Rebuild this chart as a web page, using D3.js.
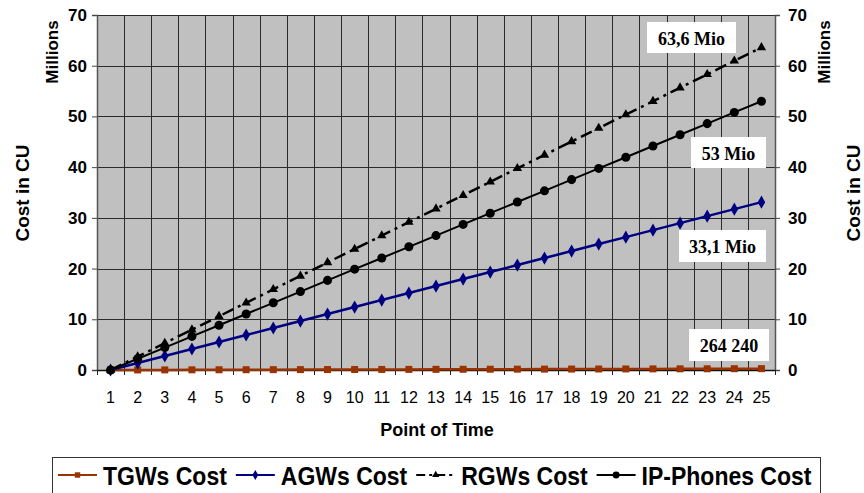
<!DOCTYPE html>
<html>
<head>
<meta charset="utf-8">
<script src="https://cdn.jsdelivr.net/npm/d3@7"></script>
<style>
  html, body { margin: 0; padding: 0; background: #ffffff; }
  svg { display: block; }
  text { fill: #000; }
</style>
</head>
<body>
<svg id="chart" width="864" height="493"></svg>
<script>
// Points of time on the category axis
const categories = ["1","2","3","4","5","6","7","8","9","10","11","12","13","14","15","16","17","18","19","20","21","22","23","24","25"];

// Cumulative cost per point of time, in millions of CU
const tgwsCost = [0, 0.011, 0.022, 0.033, 0.044, 0.055, 0.066, 0.077, 0.088, 0.099, 0.11, 0.121, 0.132, 0.143, 0.154, 0.165, 0.176, 0.187, 0.198, 0.209, 0.22, 0.231, 0.242, 0.253, 0.26424];
const agwsCost = [0, 1.38, 2.76, 4.14, 5.52, 6.9, 8.28, 9.65, 11.03, 12.41, 13.79, 15.17, 16.55, 17.93, 19.31, 20.69, 22.07, 23.45, 24.83, 26.2, 27.58, 28.96, 30.34, 31.72, 33.1];
const rgwsCost = [0, 2.65, 5.3, 7.95, 10.6, 13.25, 15.9, 18.55, 21.2, 23.85, 26.5, 29.15, 31.8, 34.45, 37.1, 39.75, 42.4, 45.05, 47.7, 50.35, 53.0, 55.65, 58.3, 60.95, 63.6];
const ipPhonesCost = [0, 2.21, 4.42, 6.63, 8.83, 11.04, 13.25, 15.46, 17.67, 19.88, 22.08, 24.29, 26.5, 28.71, 30.92, 33.13, 35.33, 37.54, 39.75, 41.96, 44.17, 46.38, 48.58, 50.79, 53.0];

const seriesNames = ["TGWs Cost", "AGWs Cost", "RGWs Cost", "IP-Phones Cost"];
const yTicks = [0, 10, 20, 30, 40, 50, 60, 70];

// End-value annotations
const endLabels = ["264 240", "33,1 Mio", "63,6 Mio", "53 Mio"];

const SANS = "'Liberation Sans', Arial, sans-serif";
const SERIF = "'Liberation Serif', 'Times New Roman', serif";

const svg = d3.select("#chart");
const plot = { left: 97, right: 775, top: 15, bottom: 370 };

const x = d3.scaleBand().domain(categories).range([plot.left, plot.right]).padding(0);
const y = d3.scaleLinear().domain([0, 70]).range([plot.bottom, plot.top]);
const cx = c => x(c) + x.bandwidth() / 2;

// Plot background
svg.append("rect")
  .attr("x", plot.left).attr("y", plot.top)
  .attr("width", plot.right - plot.left).attr("height", plot.bottom - plot.top)
  .attr("fill", "#c0c0c0");

// Gridlines
const grid = svg.append("g").attr("stroke", "#2a2a2a").attr("stroke-width", 1);
yTicks.filter(v => v > 0).forEach(v => {
  grid.append("line")
    .attr("x1", plot.left).attr("x2", plot.right)
    .attr("y1", Math.round(y(v)) + 0.5).attr("y2", Math.round(y(v)) + 0.5);
});
categories.slice(1).forEach(c => {
  grid.append("line")
    .attr("x1", Math.round(x(c)) + 0.5).attr("x2", Math.round(x(c)) + 0.5)
    .attr("y1", plot.top).attr("y2", plot.bottom);
});

// Axes
const fmt = d3.format("d");
const leftAxis = svg.append("g")
  .attr("transform", `translate(${plot.left},0)`)
  .call(d3.axisLeft(y).tickValues(yTicks).tickSize(5).tickPadding(5).tickFormat(fmt));
const rightAxis = svg.append("g")
  .attr("transform", `translate(${plot.right},0)`)
  .call(d3.axisRight(y).tickValues(yTicks).tickSize(5).tickPadding(8).tickFormat(fmt));
[leftAxis, rightAxis].forEach(a => {
  a.selectAll("text").style("font-size", "17px").style("font-weight", "bold")
    .style("font-family", SANS).attr("fill", "#000");
  a.selectAll("line").attr("stroke", "#444");
  a.select(".domain").attr("stroke", "#555").attr("stroke-width", 1.5);
});

const bottomAxis = svg.append("g")
  .attr("transform", `translate(0,${plot.bottom})`)
  .call(d3.axisBottom(x).tickSize(0).tickPadding(22));
bottomAxis.select(".domain").attr("stroke", "#111").attr("stroke-width", 1.5);
bottomAxis.selectAll("text").style("font-size", "16px")
  .style("font-family", SANS).attr("fill", "#000");
// Boundary tick marks between categories
const bTicks = svg.append("g").attr("stroke", "#222");
categories.forEach(c => {
  bTicks.append("line")
    .attr("x1", Math.round(x(c)) + 0.5).attr("x2", Math.round(x(c)) + 0.5)
    .attr("y1", plot.bottom).attr("y2", plot.bottom + 5);
});
bTicks.append("line")
  .attr("x1", plot.right + 0.5).attr("x2", plot.right + 0.5)
  .attr("y1", plot.bottom).attr("y2", plot.bottom + 5);

// Axis titles
function rotatedTitle(txt, tx, ty, size) {
  svg.append("text")
    .attr("transform", `translate(${tx},${ty}) rotate(-90)`)
    .attr("text-anchor", "middle").attr("dominant-baseline", "central")
    .style("font-family", SANS).style("font-size", size + "px").style("font-weight", "bold")
    .text(txt);
}
rotatedTitle("Millions", 52, 52, 17);
rotatedTitle("Cost in CU", 22, 193, 19);
rotatedTitle("Millions", 824, 52, 17);
rotatedTitle("Cost in CU", 853, 193, 19);

svg.append("text")
  .attr("x", 437).attr("y", 436)
  .attr("text-anchor", "middle")
  .style("font-family", SANS).style("font-size", "18px").style("font-weight", "bold")
  .text("Point of Time");

// Series definitions
const series = [
  { name: seriesNames[0], values: tgwsCost, color: "#993300", width: 2.5, dash: null, marker: "square" },
  { name: seriesNames[1], values: agwsCost, color: "#000080", width: 2.5, dash: null, marker: "diamond" },
  { name: seriesNames[2], values: rgwsCost, color: "#000000", width: 2.5, dash: "12,5,3,5", marker: "triangle" },
  { name: seriesNames[3], values: ipPhonesCost, color: "#000000", width: 2, dash: null, marker: "circle" }
];

const symbolType = {
  square: d3.symbolSquare,
  diamond: d3.symbolDiamond,
  triangle: d3.symbolTriangle,
  circle: d3.symbolCircle
};
const symbolSize = { square: 49, diamond: 50, triangle: 38, circle: 64 };

function drawMarker(g, kind, color, px, py, scale = 1) {
  g.append("path")
    .attr("d", d3.symbol().type(symbolType[kind]).size(symbolSize[kind] * scale)())
    .attr("transform", `translate(${px},${py})`)
    .attr("fill", color).attr("stroke", "none");
}

const line = d3.line().x((d, i) => cx(categories[i])).y(d => y(d));

series.forEach(s => {
  const g = svg.append("g");
  g.append("path")
    .datum(s.values)
    .attr("d", line)
    .attr("fill", "none")
    .attr("stroke", s.color)
    .attr("stroke-width", s.width)
    .attr("stroke-dasharray", s.dash);
  s.values.forEach((v, i) => drawMarker(g, s.marker, s.color, cx(categories[i]), y(v)));
});

// Value annotation boxes
const boxes = [
  { text: endLabels[0], x: 689, y: 329, w: 80, h: 32 },
  { text: endLabels[1], x: 679, y: 230, w: 87, h: 32 },
  { text: endLabels[2], x: 647, y: 22, w: 89, h: 31 },
  { text: endLabels[3], x: 691, y: 137, w: 75, h: 31 }
];
boxes.forEach(b => {
  svg.append("rect").attr("x", b.x).attr("y", b.y).attr("width", b.w).attr("height", b.h).attr("fill", "#fff");
  svg.append("text")
    .attr("x", b.x + b.w / 2).attr("y", b.y + b.h / 2 + 1)
    .attr("text-anchor", "middle").attr("dominant-baseline", "central")
    .style("font-family", SERIF).style("font-size", "18px").style("font-weight", "bold")
    .text(b.text);
});

// Legend
const legend = svg.append("g");
legend.append("rect")
  .attr("x", 52.5).attr("y", 457.5).attr("width", 768).attr("height", 50)
  .attr("fill", "#fff").attr("stroke", "#333").attr("stroke-width", 1);
let lx = 58;
const ly = 475;
series.forEach(s => {
  const item = legend.append("g");
  item.append("line")
    .attr("x1", lx).attr("x2", lx + 39).attr("y1", ly).attr("y2", ly)
    .attr("stroke", s.color).attr("stroke-width", 2)
    .attr("stroke-dasharray", s.dash ? "9,4,3,4" : null);
  drawMarker(item, s.marker, s.color, lx + 19.5, ly, 0.6);
  const t = item.append("text")
    .attr("x", lx + 45).attr("y", ly + 9)
    .style("font-family", SANS).style("font-size", "23px").style("font-weight", "bold")
    .attr("transform", `translate(0,${ly}) scale(1,1.1) translate(0,${-ly})`)
    .text(s.name);
  lx += 45 + t.node().getComputedTextLength() + 9;
});
</script>
</body>
</html>
